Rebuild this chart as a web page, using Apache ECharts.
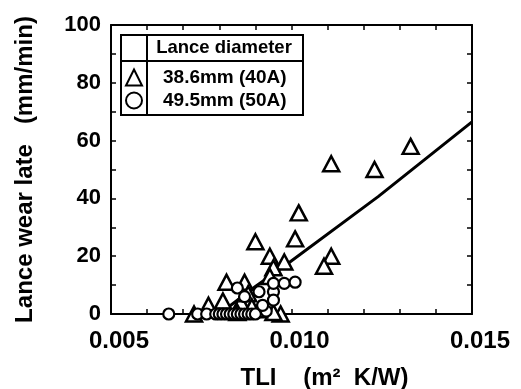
<!DOCTYPE html>
<html>
<head>
<meta charset="utf-8">
<script src="https://cdn.jsdelivr.net/npm/echarts@6/dist/echarts.min.js"></script>
<style>html,body{margin:0;padding:0;background:#fff;}#c{width:521px;height:389px;}</style>
</head>
<body>
<div id="c"></div>
<script>
// ---- data ----
var seriesNames = ['38.6mm (40A)', '49.5mm (50A)'];
var legendTitle = 'Lance diameter';
var xTickLabels = ['0.005', '0.010', '0.015'];
var yTickLabels = ['0', '20', '40', '60', '80', '100'];

var lance40A = [
  [0.0111, 52], [0.0123, 50], [0.0133, 58], [0.0102, 35], [0.0101, 26],
  [0.0090, 25], [0.0094, 20], [0.0098, 18], [0.0111, 20], [0.0109, 16.5],
  [0.0095, 16], [0.0082, 11], [0.0087, 11], [0.0094, 13], [0.0081, 4.5],
  [0.0077, 3], [0.0086, 4], [0.0088, 7], [0.0089, 2.5], [0.0073, 0],
  [0.0097, 0], [0.0095, 0.5], [0.0085, 0.5], [0.0091, 1.5]
];
var lance50A = [
  [0.0066, 0], [0.0074, 0], [0.00765, 0], [0.0079, 0], [0.0080, 0],
  [0.0081, 0], [0.0082, 0], [0.0083, 0], [0.0084, 0], [0.0085, 0],
  [0.0086, 0], [0.0087, 0], [0.0088, 0], [0.0089, 0], [0.0090, 0],
  [0.0093, 1], [0.0085, 9], [0.0091, 7.7], [0.0095, 7.7], [0.0095, 4.8],
  [0.0095, 10.6], [0.0098, 10.6], [0.0101, 11], [0.0087, 6], [0.0092, 3]
];
var fitLine = [
  [0.0080, 0], [0.0090, 9.5], [0.0099, 17.5], [0.0124, 40.6], [0.0150, 66.5]
];

var FONT = '"Liberation Sans", Arial, Helvetica, sans-serif';
var chart = echarts.init(document.getElementById('c'), null, {renderer: 'canvas'});

function xLab(v) {
  var s = v.toFixed(3);
  return xTickLabels.indexOf(s) >= 0 ? s : '';
}
function yLab(v) {
  var s = String(Math.round(v));
  return yTickLabels.indexOf(s) >= 0 ? s : '';
}

var axisLineStyle = {color: '#000', width: 2};
var tickStyle = {show: true, inside: true, length: 5, lineStyle: {color: '#000', width: 1.5}};

var option = {
  backgroundColor: '#fff',
  animation: false,
  grid: {left: 111, right: 49, top: 25, bottom: 75, containLabel: false, outerBoundsMode: 'none'},
  xAxis: [{
    type: 'value', min: 0.005, max: 0.015, interval: 0.001,
    axisLine: {show: true, lineStyle: axisLineStyle},
    axisTick: tickStyle,
    splitLine: {show: false},
    axisLabel: {formatter: xLab, color: '#000', fontFamily: FONT, fontWeight: 'bold', fontSize: 24, margin: 15, padding: [0, 0, 0, 16]},
    name: 'TLI    (m²  K/W)',
    nameLocation: 'middle', nameGap: 52,
    nameTextStyle: {color: '#000', fontFamily: FONT, fontWeight: 'bold', fontSize: 24, padding: [0, 0, 0, 66]}
  }, {
    type: 'value', position: 'top', min: 0.005, max: 0.015, interval: 0.001,
    axisLine: {show: true, onZero: false, lineStyle: axisLineStyle},
    axisTick: tickStyle, axisLabel: {show: false}, splitLine: {show: false}
  }],
  yAxis: [{
    type: 'value', min: 0, max: 100, interval: 10,
    axisLine: {show: true, lineStyle: axisLineStyle},
    axisTick: tickStyle,
    splitLine: {show: false},
    axisLabel: {formatter: yLab, color: '#000', fontFamily: FONT, fontWeight: 'bold', fontSize: 22, margin: 10},
    name: 'Lance wear late   (mm/min)',
    nameLocation: 'middle', nameGap: 74,
    nameTextStyle: {color: '#000', fontFamily: FONT, fontWeight: 'bold', fontSize: 24}
  }, {
    type: 'value', position: 'right', min: 0, max: 100, interval: 10,
    axisLine: {show: true, onZero: false, lineStyle: axisLineStyle},
    axisTick: tickStyle, axisLabel: {show: false}, splitLine: {show: false}
  }],
  legend: {
    orient: 'vertical', left: 125, top: 68, padding: 0,
    itemWidth: 16, itemHeight: 16, itemGap: 4,
    data: seriesNames,
    textStyle: {color: '#000', fontFamily: FONT, fontWeight: 'bold', fontSize: 19, padding: [0, 0, 0, 16]},
    selectedMode: false
  },
  series: [{
    name: seriesNames[0], type: 'scatter', data: lance40A,
    symbol: 'triangle', symbolSize: [16, 15],
    itemStyle: {color: '#fff', borderColor: '#000', borderWidth: 2.5, opacity: 1},
    z: 3
  }, {
    name: seriesNames[1], type: 'scatter', data: lance50A,
    symbol: 'circle', symbolSize: 11,
    itemStyle: {color: '#fff', borderColor: '#000', borderWidth: 2.2, opacity: 1},
    z: 4
  }, {
    name: 'fit', type: 'line', data: fitLine, symbol: 'none', smooth: false,
    lineStyle: {color: '#000', width: 3}, z: 2
  }],
  graphic: [
    {type: 'rect', shape: {x: 121, y: 35, width: 182, height: 80}, style: {fill: 'none', stroke: '#000', lineWidth: 2}, z: 10},
    {type: 'line', shape: {x1: 121, y1: 61, x2: 303, y2: 61}, style: {stroke: '#000', lineWidth: 2}, z: 10},
    {type: 'line', shape: {x1: 147, y1: 35, x2: 147, y2: 115}, style: {stroke: '#000', lineWidth: 2}, z: 10},
    {type: 'text', x: 224, y: 48, style: {text: legendTitle, fill: '#000', font: 'bold 18.5px ' + FONT, textAlign: 'center', textVerticalAlign: 'middle'}, z: 10}
  ]
};
chart.setOption(option);
</script>
</body>
</html>
